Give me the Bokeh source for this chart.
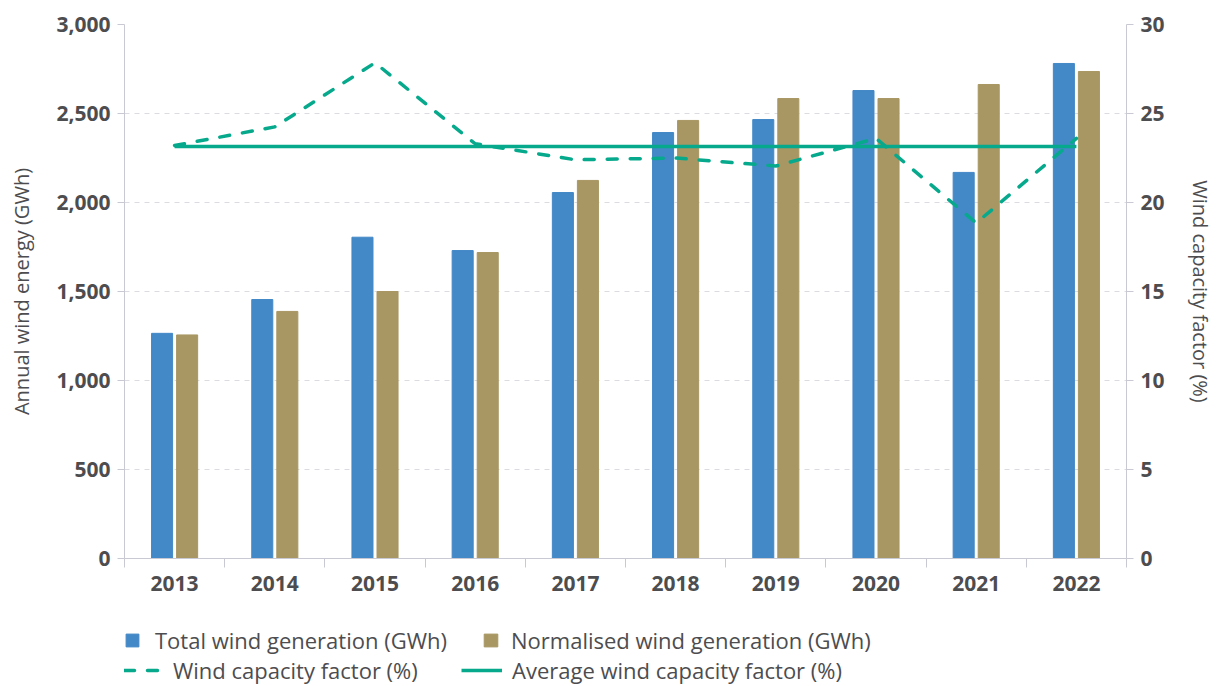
from bokeh.plotting import figure
from bokeh.layouts import column
from bokeh.models import (Range1d, LinearAxis, FixedTicker, NumeralTickFormatter,
                          Legend, LegendItem, ColumnDataSource)
from bokeh.embed import file_html
from bokeh.resources import INLINE

years = ["2013", "2014", "2015", "2016", "2017", "2018", "2019", "2020", "2021", "2022"]
total_gen = [1265, 1455, 1805, 1730, 2056, 2393, 2466, 2629, 2169, 2781]
normalised_gen = [1256, 1388, 1500, 1719, 2124, 2461, 2584, 2584, 2663, 2736]
capacity_factor = [23.2, 24.25, 27.85, 23.3, 22.4, 22.5, 22.05, 23.6, 18.85, 23.6]
avg_capacity_factor = 23.15
legend_labels = ["Total wind generation (GWh)", "Normalised wind generation (GWh)",
                 "Wind capacity factor (%)", "Average wind capacity factor (%)"]

FONT = "Open Sans"
TXT = "#4d4d4f"
AXC = "#c9c9d3"
BLUE = "#4388c7"
GOLD = "#a89763"
TEAL = "#07a98c"
DASH = "10 13"
W = 1216
FRAME_LEFT = 124
NAN = float("nan")

n = len(years)
xc = [i + 0.5 for i in range(n)]
src = ColumnDataSource(dict(
    xb=[x - 0.125 for x in xc], xg=[x + 0.125 for x in xc],
    tot=total_gen, norm=normalised_gen, xc=xc, cf=capacity_factor,
    avg=[avg_capacity_factor] * n))

p = figure(width=W, height=606, output_backend="svg", toolbar_location=None,
           x_range=Range1d(0, n), y_range=Range1d(0, 3000),
           min_border_left=FRAME_LEFT, min_border_right=W - 1140, min_border_top=24,
           min_border_bottom=48)
p.extra_y_ranges = {"cf": Range1d(0, 30)}
p.outline_line_color = None
p.xgrid.grid_line_color = None
p.ygrid.grid_line_color = "#dcdce0"
p.ygrid.grid_line_dash = "5 5"
p.ygrid.ticker = FixedTicker(ticks=[500, 1000, 1500, 2000, 2500, 3000])

p.vbar(x="xb", top="tot", width=0.21, source=src, color=BLUE)
p.vbar(x="xg", top="norm", width=0.21, source=src, color=GOLD)
p.line(x="xc", y="cf", source=src, y_range_name="cf", line_color=TEAL,
       line_width=3.5, line_dash=DASH, line_cap="round")
p.line(x="xc", y="avg", source=src, y_range_name="cf", line_color=TEAL,
       line_width=3.5)

# bottom axis
xa = p.xaxis[0]
xa.ticker = FixedTicker(ticks=xc, minor_ticks=list(range(n + 1)))
xa.major_label_overrides = {x: y for x, y in zip(xc, years)}
xa.major_tick_line_color = None
xa.major_tick_out = 0
xa.major_tick_in = 0
xa.minor_tick_line_color = AXC
xa.minor_tick_out = 9
xa.minor_tick_in = 0
xa.axis_line_color = AXC
xa.major_label_text_font = FONT
xa.major_label_text_font_size = "21px"
xa.major_label_text_font_style = "bold"
xa.major_label_text_color = TXT
xa.major_label_standoff = 8

# left axis
ya = p.yaxis[0]
ya.ticker = FixedTicker(ticks=[0, 500, 1000, 1500, 2000, 2500, 3000])
ya.formatter = NumeralTickFormatter(format="0,0")
ya.axis_label = "Annual wind energy (GWh)"

ra = LinearAxis(y_range_name="cf", ticker=FixedTicker(ticks=[0, 5, 10, 15, 20, 25, 30]),
                axis_label="Wind capacity factor (%)")
p.add_layout(ra, "right")
for ax in (ya, ra):
    ax.axis_line_color = AXC
    ax.major_tick_line_color = AXC
    ax.major_tick_out = 7
    ax.major_tick_in = 0
    ax.minor_tick_line_color = None
    ax.major_label_text_font = FONT
    ax.major_label_text_font_size = "21px"
    ax.major_label_text_font_style = "bold"
    ax.major_label_text_color = TXT
    ax.major_label_standoff = 7
    ax.axis_label_text_font = FONT
    ax.axis_label_text_font_size = "20px"
    ax.axis_label_text_font_style = "normal"
    ax.axis_label_text_color = TXT
ya.axis_label_standoff = 18
ra.axis_label_standoff = 19

# legend strip (its frame is aligned with the main frame by the column layout)
LH = 80
lf = figure(width=W, height=LH, output_backend="svg", toolbar_location=None,
            x_range=Range1d(0, 1), y_range=Range1d(0, 1),
            x_axis_location=None, y_axis_location=None,
            min_border_left=FRAME_LEFT, min_border_right=W - 1140,
            min_border_top=0, min_border_bottom=0)
lf.outline_line_color = None
lf.grid.visible = False
# proxies with no drawable data that only supply the legend glyph styles
d_tot = lf.vbar(x=[NAN], top=[NAN], width=0.1, color=BLUE)
d_norm = lf.vbar(x=[NAN], top=[NAN], width=0.1, color=GOLD)
d_cf = lf.line(x=[NAN, NAN], y=[NAN, NAN], line_color=TEAL, line_width=3.5,
               line_dash=DASH, line_cap="round")
d_avg = lf.line(x=[NAN, NAN], y=[NAN, NAN], line_color=TEAL, line_width=3.5)

specs = [(d_tot, legend_labels[0], 16, 123, 31, 15),
         (d_norm, legend_labels[1], 17, 482, 31, 12),
         (d_cf, legend_labels[2], 37, 124, 1, 12),
         (d_avg, legend_labels[3], 41, 461, 1, 10)]
for r, lab, gw, x, y, so in specs:
    lg = Legend(items=[LegendItem(label=lab, renderers=[r])],
                location=(max(x - FRAME_LEFT, 0), y),
                glyph_width=gw, glyph_height=16, label_standoff=so,
                padding=0, margin=0, border_line_color=None, background_fill_alpha=0,
                label_text_font=FONT, label_text_font_size="22px", label_text_color=TXT,
                label_height=24)
    lf.add_layout(lg)

layout = column(p, lf, spacing=0)
open("out.html", "w").write(file_html(layout, INLINE))
